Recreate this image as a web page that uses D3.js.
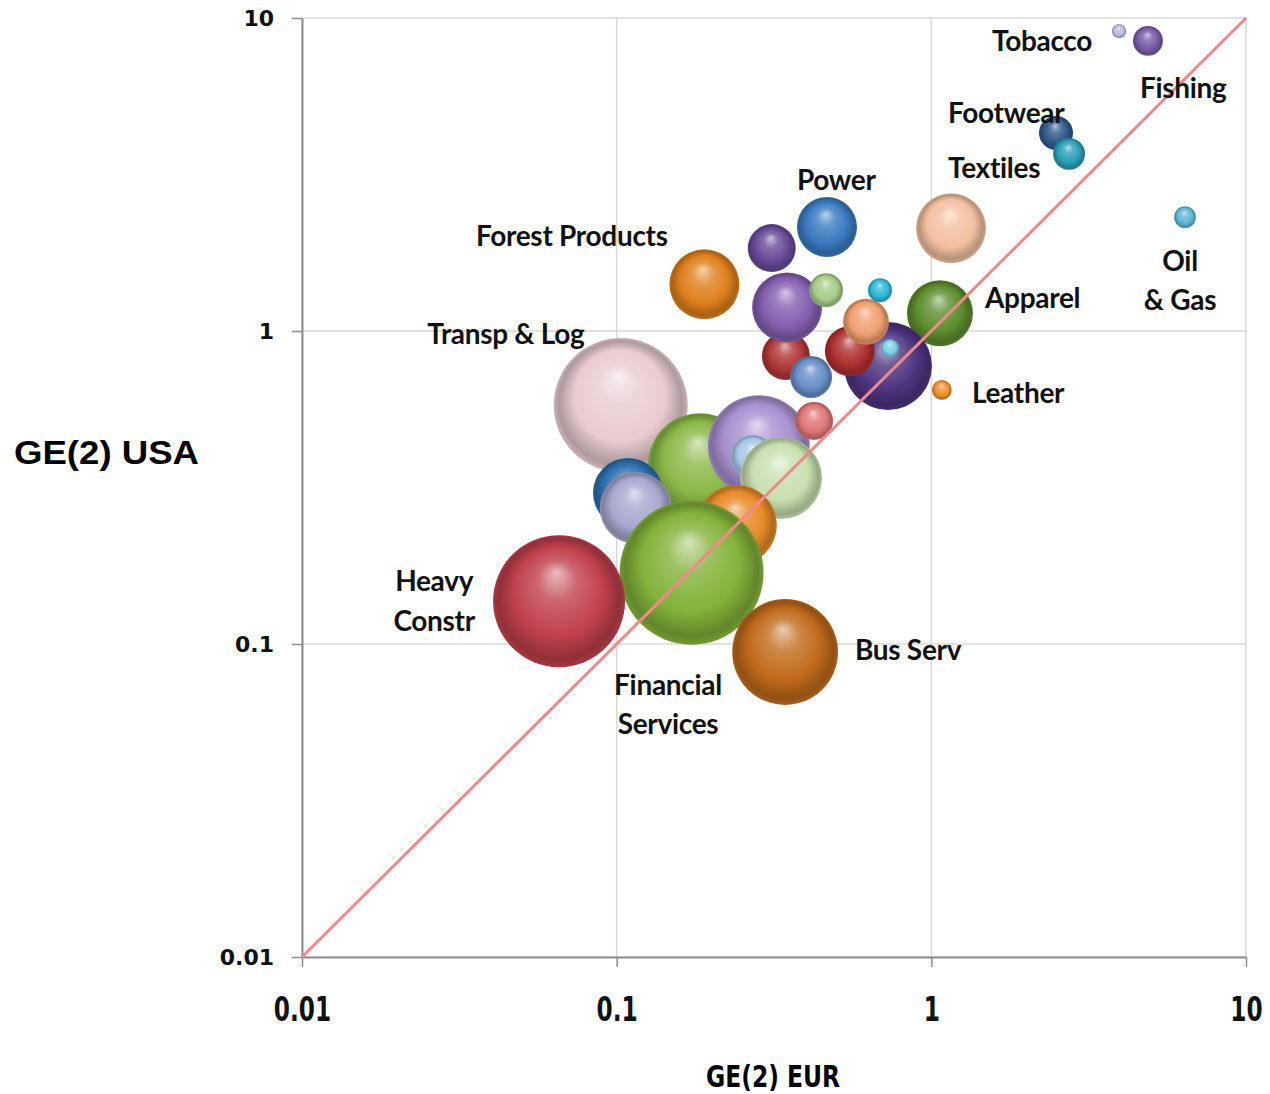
<!DOCTYPE html>
<html>
<head>
<meta charset="utf-8">
<script src="https://cdn.jsdelivr.net/npm/d3@7"></script>
<style>
  body { margin: 0; background: #fff; }
  .lbl { font-family: Lato, "Open Sans", sans-serif; font-weight: 700; fill: #111; }
</style>
</head>
<body>
<div id="chart"></div>
<script>
// bubble data (GE(2) EUR vs GE(2) USA, bubble area)
const eurValues = [3.95, 4.88, 2.49, 2.74, 6.40, 1.155, 1.065, 1.08, 0.466, 0.311,
  0.19, 0.348, 0.463, 0.687, 0.62, 0.345, 0.551, 0.739, 0.728, 0.415,
  0.424, 0.103, 0.184, 0.283, 0.271, 0.333, 0.1086, 0.115, 0.241, 0.173,
  0.0656, 0.343];
const usaValues = [9.08, 8.45, 4.29, 3.68, 2.31, 2.13, 1.14, 0.648, 2.15, 1.84,
  1.41, 1.19, 1.35, 1.35, 1.07, 0.832, 0.863, 0.882, 0.773, 0.713,
  0.516, 0.58, 0.373, 0.429, 0.396, 0.339, 0.304, 0.272, 0.240, 0.169,
  0.137, 0.0943];
const bubbleSizes = [1, 4.3, 5.6, 4.9, 2.3, 23.6, 21, 1.9, 17.4, 11.1,
  23.6, 23.6, 5.6, 2.8, 10.2, 11.1, 12.1, 1.6, 37.3, 8.5,
  7, 86.6, 52, 50, 9.3, 32.4, 23.6, 25, 30.9, 100,
  84, 54];
const palette = ["#bcb8dc", "#7a5ca8", "#2f5a8a", "#2a9fb8", "#5fb8d8", "#f2c0a0", "#5e8e2e", "#f0902c", "#3a7ac0", "#6a4a98",
  "#e0801e", "#8560b0", "#a8cc88", "#30b8d8", "#f0a070", "#b03838", "#b03030", "#7ccfe8", "#4e3480", "#6890c8",
  "#e07878", "#e8ccd0", "#8cb848", "#a890d0", "#a8c8e8", "#c8e0b0", "#2e70b0", "#a8a8d0", "#e88a28", "#84b23a",
  "#c0404c", "#c06a1a"];

// drawing order (later = in front)
const drawOrder = [22, 23, 24, 25, 26, 27, 28, 29, 30, 31, 32, 6, 7, 19, 1, 2, 3, 4, 5, 8,
  9, 10, 11, 16, 12, 13, 20, 21, 17, 15, 14, 18].map(d => d - 1);

// sector labels, anchored in data units
const labelText = ["Tobacco", "Fishing", "Footwear", "Textiles", "Power", "Forest Products",
  "Oil", "& Gas", "Apparel", "Transp & Log", "Leather", "Heavy", "Constr", "Bus Serv",
  "Financial", "Services"];
const labelEur = [1.559, 4.60, 1.13, 1.13, 0.374, 0.0357, 6.17, 6.17, 1.48, 0.025, 1.346,
  0.0263, 0.0263, 0.572, 0.1456, 0.1456];
const labelUsa = [8.44, 5.98, 4.97, 3.32, 3.04, 2.01, 1.673, 1.256, 1.275, 0.977, 0.634,
  0.159, 0.1184, 0.0957, 0.074, 0.0555];
const labelAnchor = ["start", "start", "start", "start", "start", "start", "middle", "middle",
  "start", "start", "start", "middle", "middle", "start", "middle", "middle"];

const tickValues = [0.01, 0.1, 1, 10];
const tickLabels = ["0.01", "0.1", "1", "10"];

const width = 1270, height = 1094;
const margin = {top: 18, right: 24, bottom: 137, left: 302};
const innerW = width - margin.left - margin.right;
const innerH = height - margin.top - margin.bottom;

const svg = d3.select("#chart").append("svg")
  .attr("width", width)
  .attr("height", height);

const g = svg.append("g")
  .attr("transform", `translate(${margin.left}, ${margin.top})`);

const x = d3.scaleLog().domain([0.01, 10]).range([0, innerW]);
const y = d3.scaleLog().domain([0.01, 10]).range([innerH, 0]);
const r = d3.scaleSqrt().domain([0, d3.max(bubbleSizes)]).range([0, 72]);

// gridlines and frame
g.append("rect").attr("width", innerW).attr("height", innerH)
  .attr("fill", "#fff").attr("stroke", "#d9d9d9").attr("stroke-width", 1.5);

g.selectAll(".vgrid").data(tickValues.slice(1, 3)).enter()
  .append("line")
  .attr("x1", d => x(d)).attr("x2", d => x(d))
  .attr("y1", 0).attr("y2", innerH)
  .attr("stroke", "#d9d9d9").attr("stroke-width", 1.5);

g.selectAll(".hgrid").data(tickValues.slice(1, 3)).enter()
  .append("line")
  .attr("y1", d => y(d)).attr("y2", d => y(d))
  .attr("x1", 0).attr("x2", innerW)
  .attr("stroke", "#d9d9d9").attr("stroke-width", 1.5);

// axes
let xAxis = g.append("g")
  .attr("transform", `translate(0, ${innerH})`)
  .call(d3.axisBottom(x).tickValues(tickValues).tickFormat((d, i) => tickLabels[i])
    .tickSizeInner(10).tickSizeOuter(0).tickPadding(30));
xAxis.select(".domain").attr("stroke", "#8c8c8c").attr("stroke-width", 2);
xAxis.selectAll(".tick line").attr("stroke", "#8c8c8c").attr("stroke-width", 1.5);
xAxis.selectAll("text")
  .style("font-family", "'DejaVu Sans Condensed', 'DejaVu Sans', sans-serif")
  .style("font-weight", 700).style("font-size", "34px").attr("fill", "#111")
  .attr("transform", "scale(0.76, 1)");

let yAxis = g.append("g")
  .call(d3.axisLeft(y).tickValues(tickValues).tickFormat((d, i) => tickLabels[i])
    .tickSizeInner(10).tickSizeOuter(0).tickPadding(18));
yAxis.select(".domain").attr("stroke", "#8c8c8c").attr("stroke-width", 2);
yAxis.selectAll(".tick line").attr("stroke", "#8c8c8c").attr("stroke-width", 1.5);
yAxis.selectAll("text")
  .style("font-family", "'DejaVu Sans', sans-serif")
  .style("font-weight", 700).style("font-size", "22px").attr("fill", "#111");

// sphere gradients
const defs = svg.append("defs");
palette.forEach(function(c, i) {
  let grad = defs.append("radialGradient")
    .attr("id", "ball" + i)
    .attr("cx", "50%").attr("cy", "50%").attr("r", "50%")
    .attr("fx", "48%").attr("fy", "28%");
  let base = d3.rgb(c);
  grad.append("stop").attr("offset", "0%").attr("stop-color", d3.interpolateRgb(c, "#fff")(0.65));
  grad.append("stop").attr("offset", "30%").attr("stop-color", d3.interpolateRgb(c, "#fff")(0.2));
  grad.append("stop").attr("offset", "68%").attr("stop-color", c);
  grad.append("stop").attr("offset", "92%").attr("stop-color", base.darker(0.8));
  grad.append("stop").attr("offset", "100%").attr("stop-color", base.darker(0.4));
});

// bubbles
g.selectAll(".bubble").data(drawOrder).enter()
  .append("circle")
  .attr("class", "bubble")
  .attr("cx", d => x(eurValues[d]))
  .attr("cy", d => y(usaValues[d]))
  .attr("r", d => r(bubbleSizes[d]))
  .attr("fill", d => `url(#ball${d})`);

// 45 degree reference line
g.append("line")
  .attr("x1", x(0.01)).attr("y1", y(0.01))
  .attr("x2", x(10)).attr("y2", y(10))
  .attr("stroke", "#f08a8a").attr("stroke-width", 3);

// sector labels
g.selectAll(".lbl").data(labelText).enter()
  .append("text")
  .attr("class", "lbl")
  .attr("x", (d, i) => x(labelEur[i]))
  .attr("y", (d, i) => y(labelUsa[i]))
  .attr("dy", "0.35em")
  .attr("text-anchor", (d, i) => labelAnchor[i])
  .style("font-size", "28px")
  .style("letter-spacing", "-0.3px")
  .text(d => d);

// axis titles
svg.append("text")
  .attr("x", 14).attr("y", 452).attr("dy", "0.35em")
  .style("font-family", "'Liberation Sans', Arial, sans-serif")
  .style("font-weight", 700).style("font-size", "34px")
  .attr("textLength", 185).attr("lengthAdjust", "spacingAndGlyphs")
  .text("GE(2) USA");

svg.append("text")
  .attr("x", 706).attr("y", 1076).attr("dy", "0.35em")
  .style("font-family", "'DejaVu Sans Condensed', 'DejaVu Sans', sans-serif")
  .style("font-weight", 700).style("font-size", "31px")
  .attr("textLength", 134).attr("lengthAdjust", "spacingAndGlyphs")
  .text("GE(2) EUR");
</script>
</body>
</html>
